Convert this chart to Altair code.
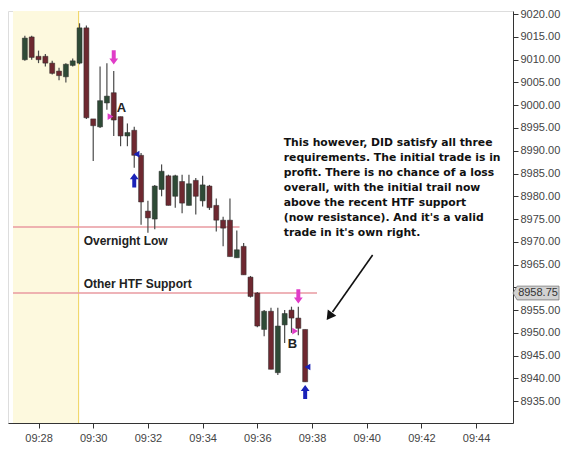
import altair as alt
import pandas as pd

DAY = "2024-01-02T"

# 15-second candles, 09:27:30 .. 09:37:45
times = ["09:27:30", "09:27:45", "09:28:00", "09:28:15", "09:28:30", "09:28:45",
         "09:29:00", "09:29:15", "09:29:30", "09:29:45", "09:30:00", "09:30:15",
         "09:30:30", "09:30:45", "09:31:00", "09:31:15", "09:31:30", "09:31:45",
         "09:32:00", "09:32:15", "09:32:30", "09:32:45", "09:33:00", "09:33:15",
         "09:33:30", "09:33:45", "09:34:00", "09:34:15", "09:34:30", "09:34:45",
         "09:35:00", "09:35:15", "09:35:30", "09:35:45", "09:36:00", "09:36:15",
         "09:36:30", "09:36:45", "09:37:00", "09:37:15", "09:37:30", "09:37:45"]
opens = [9010.0, 9015.0, 9010.75, 9010.75, 9009.25, 9007.5, 9006.25, 9008.75, 9009.25, 9017.0,
         8997.0, 8995.25, 9000.5, 9002.75, 8997.5, 8993.25, 8994.5, 8989.0, 8976.75, 8975.0,
         8981.5, 8984.5, 8980.0, 8983.25, 8978.0, 8983.5, 8979.0, 8982.25, 8978.0, 8974.75,
         8974.75, 8966.5, 8969.0, 8962.25, 8958.75, 8950.75, 8954.75, 8941.25, 8951.75, 8955.0,
         8953.25, 8950.75]
highs = [9015.25, 9015.25, 9012.0, 9011.25, 9009.75, 9008.25, 9009.25, 9010.25, 9018.0, 9017.5,
         8997.0, 9008.5, 9009.25, 9007.5, 8997.5, 8996.0, 8995.25, 8989.5, 8979.0, 8982.5,
         8987.0, 8984.75, 8984.75, 8984.75, 8984.75, 8984.0, 8984.5, 8982.5, 8979.5, 8975.5,
         8979.5, 8972.5, 8969.75, 8962.5, 8959.0, 8955.0, 8955.5, 8955.5, 8955.0, 8955.75,
         8955.75, 8950.75]
lows = [9009.75, 9010.0, 9009.25, 9008.5, 9006.75, 9005.5, 9005.0, 9008.5, 9009.0, 8997.0,
        8987.75, 8995.0, 8999.0, 8993.25, 8991.0, 8991.0, 8986.25, 8973.75, 8972.0, 8972.75,
        8980.0, 8978.0, 8977.5, 8976.25, 8978.0, 8976.0, 8977.75, 8977.0, 8972.25, 8969.0,
        8966.75, 8966.5, 8962.75, 8957.75, 8951.25, 8949.25, 8942.0, 8940.75, 8947.75, 8950.0,
        8949.5, 8939.25]
closes = [9014.75, 9010.5, 9010.0, 9009.25, 9007.0, 9006.5, 9009.0, 9009.75, 9017.0, 8997.25,
          8995.5, 9001.0, 9002.0, 8996.75, 8993.25, 8994.0, 8989.0, 8978.75, 8975.25, 8982.25,
          8985.5, 8978.0, 8984.5, 8978.5, 8982.75, 8980.0, 8982.5, 8977.5, 8974.75, 8973.0,
          8966.75, 8968.25, 8962.75, 8958.0, 8951.5, 8954.75, 8942.0, 8951.5, 8954.25, 8953.25,
          8951.0, 8939.25]

# support / resistance levels
level_names = ["Overnight Low", "Other HTF Support"]
level_prices = [8973.25, 8958.75]
level_ends = ["09:35:21", "09:38:11"]
level_label_prices = [8970.2, 8960.7]

# trade signal markers
pink_down_t = ["09:30:45", "09:37:30"]
pink_down_p = [9010.5, 8958.0]
pink_tri_t = ["09:30:38", "09:37:23"]
pink_tri_p = [8997.5, 8950.4]
blue_tri_t = ["09:31:35", "09:37:50"]
blue_tri_p = [8989.25, 8942.5]
blue_up_t = ["09:31:30", "09:37:45"]
blue_up_p = [8983.5, 8937.0]
letters = ["A", "B"]
letter_t = ["09:31:02", "09:37:17"]
letter_p = [8999.3, 8947.6]

note_lines = ["This however, DID satisfy all three",
              "requirements. The initial trade is in",
              "profit. There is no chance of a loss",
              "overall, with the initial trail now",
              "above the recent HTF support",
              "(now resistance). And it's a valid",
              "trade in it's own right."]

last_price = 8958.75
session_start = "09:29:28"
y_ticks = [8935 + 5 * i for i in range(18)]

W, H = 505, 412
FONT = "Liberation Sans"

def dt(h, m, s):
    return alt.DateTime(year=2024, month=1, date=2, hours=h, minutes=m, seconds=s)

xscale = alt.Scale(domain=[dt(9, 27, 4), dt(9, 45, 10)])
yscale = alt.Scale(domain=[8930.2, 9020.7], zero=False, nice=False)
xaxis = alt.Axis(values=[dt(9, m, 0) for m in range(28, 45, 2)], format="%H:%M",
                 title=None, grid=False, tickSize=5, labelPadding=4,
                 labelFont=FONT, labelFontSize=11, labelColor="#444",
                 domainColor="#333", tickColor="#333", labelFlush=False)
yaxis = alt.Axis(orient="right", values=y_ticks, title=None, grid=False,
                 labelExpr="datum.value == 8960 ? '' : format(datum.value, '.2f')",
                 tickSize=5, labelPadding=2, labelFont=FONT, labelFontSize=11,
                 labelColor="#444", domainColor="#333", tickColor="#333", labelFlush=False)

def X(f):
    return alt.X(f, type="temporal", scale=xscale, axis=xaxis)

def X2(f):
    return alt.X2(f)

def Y(f):
    return alt.Y(f, type="quantitative", scale=yscale, axis=yaxis)

candles = pd.DataFrame({
    "t": [DAY + t for t in times], "o": opens, "h": highs, "l": lows, "c": closes,
})
candles["dir"] = ["up" if c >= o else "down" for o, c in zip(opens, closes)]

session = pd.DataFrame({"a": [DAY + "09:27:04"], "b": [DAY + session_start]})
levels = pd.DataFrame({"a": [DAY + "09:27:04"] * 2, "b": [DAY + e for e in level_ends],
                       "p": level_prices, "name": level_names,
                       "lt": [DAY + "09:29:39"] * 2, "lp": level_label_prices})

def pts(ts_, ps):
    return pd.DataFrame({"t": [DAY + t for t in ts_], "p": ps})

DOWN = "M-0.28,-1 L0.28,-1 L0.28,0.15 L0.62,0.15 L0,1 L-0.62,0.15 L-0.28,0.15 Z"
UP = "M-0.28,1 L0.28,1 L0.28,-0.15 L0.62,-0.15 L0,-1 L-0.62,-0.15 L-0.28,-0.15 Z"
TAG = "M-1,0 L-0.82,-0.3 L1,-0.3 L1,0.3 L-0.82,0.3 Z"

bg = alt.Chart(session).mark_rect(color="#fdf9de").encode(x=X("a"), x2=X2("b"))
bgline = alt.Chart(session).mark_rule(color="#efd35a", strokeWidth=1).encode(x=X("b"))

lvl = alt.Chart(levels).mark_rule(color="#e89aa0", strokeWidth=1.6).encode(
    x=X("a"), x2=X2("b"), y=Y("p"))
lvl_text = alt.Chart(levels).mark_text(align="left", baseline="middle", font=FONT,
                                       fontSize=12, fontWeight="bold", color="#222").encode(
    x=X("lt"), y=Y("lp"), text="name:N")

wicks = alt.Chart(candles).mark_rule(color="#4a4a4a", strokeWidth=1.2).encode(
    x=X("t"), y=Y("l"), y2=alt.Y2("h"))
bodies = alt.Chart(candles).mark_bar(width=5, stroke="#2a2a2a", strokeWidth=0.5).encode(
    x=X("t"), y=Y("o"), y2=alt.Y2("c"),
    color=alt.Color("dir:N", scale=alt.Scale(domain=["up", "down"],
                                             range=["#2e4a36", "#6e2830"]), legend=None))

pdown = alt.Chart(pts(pink_down_t, pink_down_p)).mark_point(
    shape=DOWN, size=200, filled=True, color="#e03cc8", opacity=1).encode(x=X("t"), y=Y("p"))
ptri = alt.Chart(pts(pink_tri_t, pink_tri_p)).mark_point(
    shape="triangle-right", size=45, filled=True, color="#e03cc8", opacity=1).encode(x=X("t"), y=Y("p"))
btri = alt.Chart(pts(blue_tri_t, blue_tri_p)).mark_point(
    shape="triangle-left", size=45, filled=True, color="#1a22b8", opacity=1).encode(x=X("t"), y=Y("p"))
bup = alt.Chart(pts(blue_up_t, blue_up_p)).mark_point(
    shape=UP, size=200, filled=True, color="#1a22b8", opacity=1).encode(x=X("t"), y=Y("p"))

let_df = pd.DataFrame({"t": [DAY + t for t in letter_t], "p": letter_p, "s": letters})
let_text = alt.Chart(let_df).mark_text(font=FONT, fontSize=13, fontWeight="bold",
                                       color="#222", align="center", baseline="middle").encode(
    x=X("t"), y=Y("p"), text="s:N")

note_df = pd.DataFrame({"t": [DAY + "09:36:58"], "p": [8993.0], "s": ["\n".join(note_lines)]})
note = alt.Chart(note_df).mark_text(font="DejaVu Sans", fontSize=10.8, fontWeight="bold",
                                    color="#111", align="left", baseline="top", lineBreak="\n",
                                    lineHeight=15).encode(x=X("t"), y=Y("p"), text="s:N")

arrow_df = pd.DataFrame({"t": [DAY + "09:40:13"], "p": [8967.1],
                         "t2": [DAY + "09:38:45"], "p2": [8954.6]})
arrow = alt.Chart(arrow_df).mark_rule(color="#111", strokeWidth=1.6).encode(
    x=X("t"), y=Y("p"), x2=alt.X2("t2"), y2=alt.Y2("p2"))
head = alt.Chart(pts(["09:38:40"], [8953.9])).mark_point(
    shape="triangle", size=110, filled=True, color="#111", angle=216, opacity=1).encode(
    x=X("t"), y=Y("p"))

tag_df = pd.DataFrame({"p": [last_price], "s": [f"{last_price:.2f}"]})
tag = alt.Chart(tag_df).mark_point(shape=TAG, size=2116, filled=True, fill="#d2d2d2",
                                   stroke="#777", strokeWidth=0.8, opacity=1).encode(
    x=alt.value(W + 23), y=Y("p"))
tag_text = alt.Chart(tag_df).mark_text(font=FONT, fontSize=11, color="#333",
                                       align="center", baseline="middle").encode(
    x=alt.value(W + 25), y=Y("p"), text="s:N")

chart = alt.layer(bg, bgline, lvl, wicks, bodies, pdown, ptri, btri, bup, let_text,
                  lvl_text, note, arrow, head, tag, tag_text).properties(
    width=W, height=H, padding={"left": 0, "top": 0, "right": 0, "bottom": 0}
).configure_view(stroke=None).configure(background="white")

chart.save("out.html", embed_options={"renderer": "svg", "actions": False})
